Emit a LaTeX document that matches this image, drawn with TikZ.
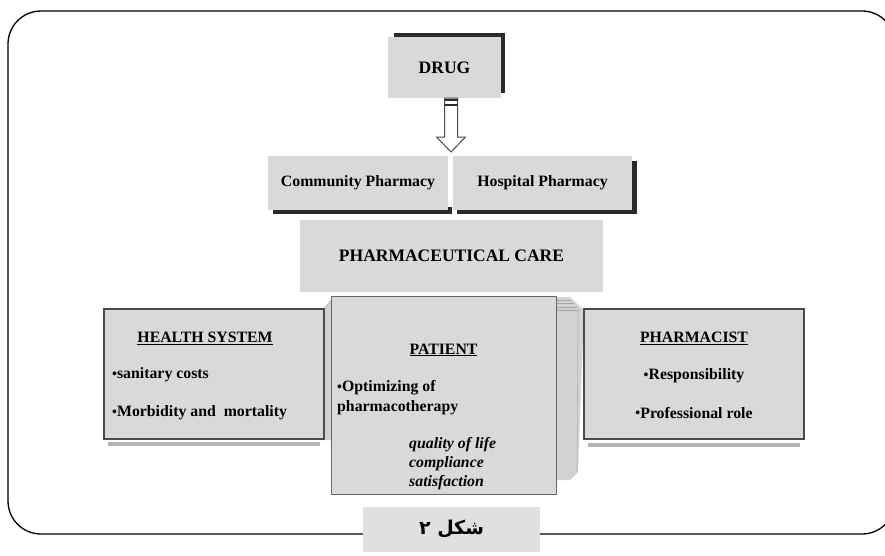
\documentclass[tikz,border=0pt]{standalone}
\usepackage{fontspec}
\setmainfont{Liberation Serif}
\newfontfamily\arabicfont[Script=Arabic]{DejaVu Sans}
\TeXXeTstate=1
\usetikzlibrary{calc}
\definecolor{boxgray}{HTML}{D9D9D9}
\definecolor{capgray}{HTML}{E0E0E0}
\definecolor{shadowdark}{HTML}{2A2A2A}
\definecolor{bordergray}{HTML}{4A4A4A}
\definecolor{stackgray}{HTML}{D2D2D2}
\definecolor{softshadow}{HTML}{B4B4B4}
\newcommand{\bul}{{\fontsize{14}{14}\selectfont\raisebox{0.1ex}{•}}}
\begin{document}
\begin{tikzpicture}[x=1pt,y=-1pt,
  box/.style={fill=boxgray, draw=none, inner sep=0pt, outer sep=0pt, text=black},
  framedbox/.style={box, draw=bordergray, line width=1.1pt},
  bodytext/.style={font=\fontsize{15.8}{19}\selectfont\bfseries, inner sep=0pt, text=black},
  bigtext/.style={font=\fontsize{17.5}{21}\selectfont\bfseries, inner sep=0pt, text=black},
  itext/.style={font=\fontsize{15.8}{19}\selectfont\bfseries\itshape, inner sep=0pt, text=black},
  darkshadow/.style={fill=shadowdark, draw=none},
  softline/.style={fill=softshadow, draw=none}]
\useasboundingbox (0,0) rectangle (885,555);
\clip (0,0) rectangle (885,555);

% outer frame
\draw[line width=1.3pt, rounded corners=33pt] (8,11) rectangle (895,534);

% DRUG
\fill[darkshadow] (394,33) rectangle (505,93);
\node[box, minimum width=113pt, minimum height=61pt, bigtext] (drug) at (444.5,67.5) {DRUG};

% hollow block arrow
\coordinate (atop) at (451,98);
\coordinate (atip) at (451,152);
\draw[fill=white, draw=bordergray, line width=1pt, line join=miter]
  ($(atop)+(-6.5,0)$) -- ($(atop)+(6.5,0)$) -- ($(atip)+(6.5,-15)$) -- ($(atip)+(14.5,-15)$)
  -- (atip) -- ($(atip)+(-14.5,-15)$) -- ($(atip)+(-6.5,-15)$) -- cycle;
\fill[shadowdark] ($(atop)+(-6.5,1)$) rectangle ($(atop)+(6.5,3)$);
\fill[shadowdark] ($(atop)+(-6.5,5.5)$) rectangle ($(atop)+(6.5,7.5)$);

% Community / Hospital pharmacy
\fill[darkshadow] (273,207) rectangle (452,213.5);
\node[box, minimum width=180pt, minimum height=54pt, bodytext] (comm) at (358,183) {Community Pharmacy};
\fill[darkshadow] (457,161) rectangle (637,214);
\node[box, minimum width=179pt, minimum height=54pt, bodytext] (hosp) at (542.5,183) {Hospital Pharmacy};

% PHARMACEUTICAL CARE
\node[box, minimum width=303pt, minimum height=72pt, bigtext] (pcare) at (451.5,256) {PHARMACEUTICAL CARE};

% patient stack (3D layers)
\fill[stackgray] (320,313) -- (333,297) -- (340,297) -- (340,440) -- (320,440) -- cycle;
\fill[stackgray] (556,297) -- (570,297) -- (584,310) -- (578,472) -- (570,480) -- (556,480) -- cycle;
\foreach \yy in {300,303.5,307,310.5}{
  \draw[gray!70, line width=0.8pt] (557,\yy) -- ({568+(\yy-297)*0.9},\yy);
}
\draw[gray!60, line width=0.6pt] (578,311) -- (577,472);
\draw[gray!60, line width=0.6pt] (321,313) -- (333,298);

% PATIENT
\node[box, draw=gray!80!black, line width=0.9pt, minimum width=225pt, minimum height=198pt] (patient) at (443.5,395) {};
\node[bodytext] (pt) at (443.5,350) {\underline{PATIENT}};
\node[bodytext, anchor=west] (pt1) at (337,388) {\bul Optimizing of};
\node[bodytext, anchor=west] (pt2) at (337,408) {pharmacotherapy};
\node[itext, anchor=west] (pt3) at (409,445) {quality of life};
\node[itext, anchor=west] (pt4) at (409,464) {compliance};
\node[itext, anchor=west] (pt5) at (409,483) {satisfaction};

% HEALTH SYSTEM
\fill[softline] (108,442) rectangle (320,445.5);
\node[framedbox, minimum width=220pt, minimum height=130pt] (health) at (214,374) {};
\node[bodytext] (hs) at (205,338) {\underline{HEALTH SYSTEM}};
\node[bodytext, anchor=west] (hs1) at (112,375) {\bul sanitary costs};
\node[bodytext, anchor=west] (hs2) at (112,413) {\bul Morbidity and\ \ mortality};

% PHARMACIST
\fill[softline] (588,443) rectangle (800,446.5);
\node[framedbox, minimum width=220pt, minimum height=130pt] (pharm) at (694,374) {};
\node[bodytext] (ph) at (694,338) {\underline{PHARMACIST}};
\node[bodytext] (ph1) at (694,376) {\bul Responsibility};
\node[bodytext] (ph2) at (694,413) {\bul Professional role};

% caption
\node[fill=capgray, inner sep=0pt, minimum width=177pt, minimum height=45pt,
      font=\arabicfont\bfseries\fontsize{19}{22}\selectfont] (cap) at (451.5,529) {\beginR شکل ۲\endR};
\end{tikzpicture}
\end{document}
